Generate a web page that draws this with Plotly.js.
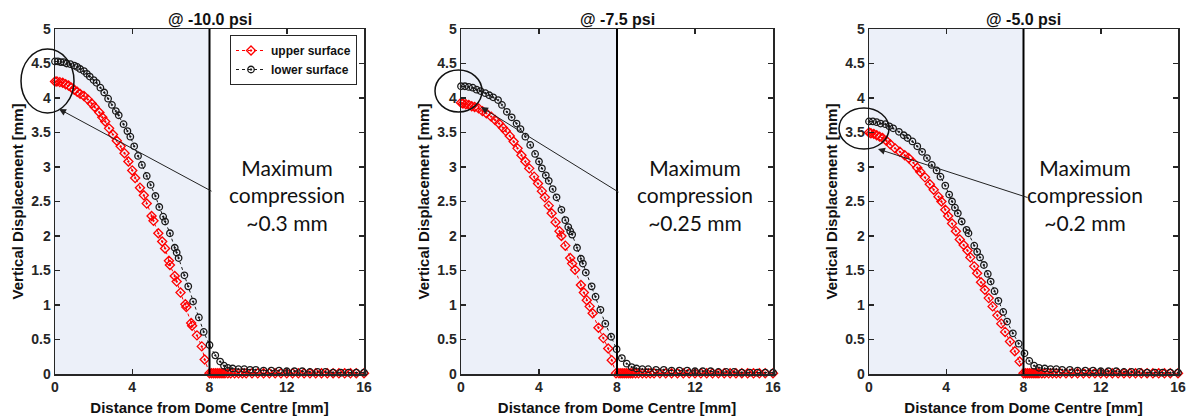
<!DOCTYPE html>
<html>
<head>
<meta charset="utf-8">
<script src="https://cdn.plot.ly/plotly-3.0.1.min.js"></script>
<style>html,body{margin:0;padding:0;background:#fff;}#chart{width:1194px;height:420px;}</style>
</head>
<body>
<div id="chart"></div>
<script>
// ---------- data ----------
const panelTitles = ['@ -10.0 psi', '@ -7.5 psi', '@ -5.0 psi'];
const noteTexts = ['Maximum<br>compression<br>~0.3 mm', 'Maximum<br>compression<br>~0.25 mm', 'Maximum<br>compression<br>~0.2 mm'];
const seriesNames = ['upper surface', 'lower surface'];
const xTicks = [0, 4, 8, 12, 16];
const yTicks = [0, 0.5, 1, 1.5, 2, 2.5, 3, 3.5, 4, 4.5, 5];
const domeEdge = 8;

// tails beyond the dome edge (x > 8)
const upperTailX = [8.1, 8.2, 8.3, 8.4, 8.5, 8.6, 8.7, 8.8, 8.95, 9.1, 9.3, 9.5, 9.7, 9.9, 10.2, 10.5, 10.8, 11.1, 11.4, 11.7, 12.0, 12.3, 12.6, 12.9, 13.2, 13.5, 13.8, 14.1, 14.4, 14.7, 15.0, 15.3, 15.6, 16.0];
const upperTailY = [0.01, 0.01, 0.01, 0.01, 0.01, 0.01, 0.01, 0.01, 0.01, 0.01, 0.01, 0.01, 0.01, 0.01, 0.01, 0.01, 0.01, 0.01, 0.01, 0.01, 0.01, 0.01, 0.01, 0.01, 0.01, 0.01, 0.01, 0.01, 0.01, 0.01, 0.01, 0.01, 0.01, 0.01];

// panel 1 (-10.0 psi)
const upper1X = [0, 0.1, 0.25, 0.4, 0.55, 0.7, 0.85, 1.0, 1.15, 1.3, 1.5, 1.7, 1.9, 2.05, 2.3, 2.45, 2.6, 2.8, 3.0, 3.2, 3.4, 3.6, 3.8, 4.0, 4.15, 4.4, 4.6, 4.75, 5.0, 5.1, 5.35, 5.55, 5.7, 5.9, 5.95, 6.2, 6.3, 6.5, 6.75, 6.8, 7.05, 7.1, 7.35, 7.6, 7.75, 8.0];
const upper1Y = [4.24, 4.24, 4.23, 4.22, 4.20, 4.18, 4.15, 4.12, 4.09, 4.06, 4.03, 3.98, 3.92, 3.87, 3.79, 3.72, 3.66, 3.56, 3.47, 3.38, 3.30, 3.20, 3.08, 2.95, 2.84, 2.70, 2.59, 2.47, 2.29, 2.22, 2.04, 1.92, 1.82, 1.64, 1.58, 1.42, 1.34, 1.18, 1.01, 0.97, 0.74, 0.70, 0.56, 0.40, 0.21, 0.01];
const lower1X = [0, 0.15, 0.3, 0.45, 0.6, 0.8, 1.0, 1.15, 1.3, 1.5, 1.65, 1.8, 2.0, 2.15, 2.35, 2.55, 2.75, 2.95, 3.15, 3.3, 3.55, 3.75, 3.9, 4.1, 4.3, 4.5, 4.75, 4.95, 5.2, 5.4, 5.6, 5.7, 5.95, 6.2, 6.3, 6.4, 6.7, 6.9, 7.15, 7.45, 7.7, 8.0, 8.3, 8.55, 8.75, 8.95, 9.2, 9.5, 9.8, 10.1, 10.4, 10.8, 11.2, 11.6, 12.0, 12.4, 12.8, 13.2, 13.6, 14.0, 14.4, 14.8, 15.2, 15.6, 16.0];
const lower1Y = [4.53, 4.53, 4.52, 4.52, 4.50, 4.49, 4.47, 4.45, 4.42, 4.39, 4.35, 4.31, 4.26, 4.22, 4.15, 4.08, 3.99, 3.90, 3.81, 3.75, 3.62, 3.52, 3.44, 3.30, 3.16, 3.03, 2.87, 2.74, 2.58, 2.42, 2.28, 2.21, 2.04, 1.83, 1.76, 1.68, 1.43, 1.27, 1.05, 0.82, 0.61, 0.42, 0.27, 0.18, 0.12, 0.09, 0.08, 0.07, 0.07, 0.06, 0.06, 0.05, 0.05, 0.05, 0.04, 0.04, 0.04, 0.03, 0.03, 0.03, 0.02, 0.02, 0.02, 0.02, 0.02];

// panel 2 (-7.5 psi)
const upper2X = [0, 0.1, 0.25, 0.4, 0.55, 0.7, 0.9, 1.1, 1.3, 1.55, 1.75, 1.95, 2.15, 2.3, 2.5, 2.7, 2.9, 3.1, 3.3, 3.5, 3.75, 3.95, 4.15, 4.3, 4.5, 4.65, 4.85, 5.05, 5.15, 5.35, 5.6, 5.7, 5.85, 6.15, 6.3, 6.45, 6.6, 6.75, 7.05, 7.3, 7.55, 7.73, 7.95];
const upper2Y = [3.93, 3.92, 3.91, 3.90, 3.88, 3.87, 3.85, 3.81, 3.78, 3.73, 3.68, 3.63, 3.57, 3.52, 3.45, 3.37, 3.27, 3.17, 3.08, 2.98, 2.86, 2.76, 2.65, 2.56, 2.44, 2.33, 2.20, 2.07, 2.00, 1.86, 1.68, 1.60, 1.51, 1.29, 1.18, 1.07, 0.98, 0.88, 0.67, 0.52, 0.37, 0.20, 0.01];
const lower2X = [0, 0.2, 0.4, 0.6, 0.8, 1.0, 1.25, 1.45, 1.65, 1.9, 2.1, 2.35, 2.6, 2.85, 3.05, 3.3, 3.55, 3.8, 4.0, 4.15, 4.35, 4.5, 4.7, 4.9, 5.15, 5.35, 5.5, 5.6, 5.7, 5.95, 6.15, 6.25, 6.4, 6.7, 6.9, 7.15, 7.4, 7.7, 7.98, 8.25, 8.5, 8.75, 9.0, 9.3, 9.6, 10.0, 10.4, 10.8, 11.2, 11.6, 12.0, 12.4, 12.8, 13.2, 13.6, 14.0, 14.4, 14.8, 15.2, 15.6, 16.0];
const lower2Y = [4.17, 4.17, 4.16, 4.15, 4.12, 4.10, 4.07, 4.04, 4.01, 3.97, 3.90, 3.80, 3.72, 3.63, 3.55, 3.44, 3.32, 3.19, 3.08, 2.98, 2.88, 2.80, 2.68, 2.56, 2.38, 2.23, 2.13, 2.07, 2.02, 1.83, 1.67, 1.60, 1.47, 1.27, 1.12, 0.93, 0.73, 0.54, 0.36, 0.23, 0.15, 0.10, 0.08, 0.07, 0.07, 0.06, 0.06, 0.05, 0.05, 0.05, 0.04, 0.04, 0.04, 0.03, 0.03, 0.03, 0.02, 0.02, 0.02, 0.02, 0.02];

// panel 3 (-5.0 psi)
const upper3X = [0, 0.1, 0.25, 0.4, 0.55, 0.7, 0.9, 1.1, 1.35, 1.6, 1.85, 2.05, 2.3, 2.5, 2.65, 2.9, 3.15, 3.35, 3.6, 3.75, 3.95, 4.1, 4.3, 4.5, 4.7, 4.9, 5.1, 5.25, 5.45, 5.6, 5.8, 6.0, 6.2, 6.4, 6.65, 6.85, 7.05, 7.3, 7.55, 7.8, 8.0];
const upper3Y = [3.50, 3.49, 3.48, 3.46, 3.44, 3.42, 3.38, 3.33, 3.27, 3.22, 3.17, 3.13, 3.06, 2.99, 2.93, 2.85, 2.75, 2.67, 2.57, 2.50, 2.38, 2.29, 2.18, 2.07, 1.95, 1.87, 1.79, 1.69, 1.56, 1.46, 1.33, 1.22, 1.10, 0.98, 0.85, 0.73, 0.61, 0.47, 0.33, 0.18, 0.01];
const lower3X = [0, 0.2, 0.4, 0.6, 0.85, 1.05, 1.25, 1.55, 1.8, 2.0, 2.25, 2.5, 2.75, 3.0, 3.25, 3.5, 3.7, 3.95, 4.15, 4.3, 4.45, 4.6, 4.8, 5.05, 5.15, 5.45, 5.6, 5.75, 5.95, 6.15, 6.3, 6.5, 6.7, 6.95, 7.15, 7.45, 7.75, 8.05, 8.3, 8.55, 8.8, 9.1, 9.4, 9.7, 10.0, 10.4, 10.8, 11.2, 11.6, 12.0, 12.4, 12.8, 13.2, 13.6, 14.0, 14.4, 14.8, 15.2, 15.6, 16.0];
const lower3Y = [3.66, 3.66, 3.65, 3.63, 3.62, 3.59, 3.56, 3.51, 3.46, 3.42, 3.37, 3.30, 3.22, 3.13, 3.03, 2.95, 2.86, 2.73, 2.60, 2.50, 2.41, 2.33, 2.21, 2.09, 2.04, 1.86, 1.77, 1.69, 1.58, 1.45, 1.34, 1.20, 1.06, 0.90, 0.76, 0.59, 0.44, 0.30, 0.19, 0.12, 0.09, 0.08, 0.07, 0.07, 0.06, 0.06, 0.05, 0.05, 0.05, 0.04, 0.04, 0.04, 0.03, 0.03, 0.03, 0.02, 0.02, 0.02, 0.02, 0.02];

const upperX = [upper1X, upper2X, upper3X];
const upperY = [upper1Y, upper2Y, upper3Y];
const lowerX = [lower1X, lower2X, lower3X];
const lowerY = [lower1Y, lower2Y, lower3Y];

// ---------- layout helpers ----------
const W = 1194, H = 420;
const M = {l: 55, r: 16, t: 29, b: 46};
const PW = W - M.l - M.r, PH = H - M.t - M.b;
const px2x = p => (p - M.l) / PW;
const px2y = p => (H - M.b - p) / PH;
const domains = [[px2x(55), px2x(364)], [px2x(461), px2x(773)], [px2x(869), px2x(1178)]];

const ellipses = [[21, 49, 74, 113], [435, 70, 482, 112], [839, 108, 889, 149]];
const arrows = [[59, 109, 213, 192], [481, 107, 620, 193], [878, 149, 1029, 198]];
const noteCenters = [[287, 195], [695, 195], [1085, 195]];

const baseFont = 'Liberation Sans, Arial, Helvetica, sans-serif';
const axisColor = '#262626';
const bold = s => '<b>' + s + '</b>';

const traces = [];
const layout = {
  width: W, height: H,
  margin: M,
  paper_bgcolor: '#fff', plot_bgcolor: '#fff',
  font: {family: baseFont, color: '#262626', size: 14},
  showlegend: true,
  legend: {
    x: px2x(357), xanchor: 'right', y: px2y(35), yanchor: 'top',
    bgcolor: '#fff', bordercolor: '#262626', borderwidth: 1,
    font: {family: baseFont, size: 12, color: '#111'},
    tracegroupgap: 0, itemwidth: 30
  },
  shapes: [], annotations: []
};

for (let i = 0; i < 3; i++) {
  const xa = i === 0 ? 'x' : 'x' + (i + 1);
  const ya = i === 0 ? 'y' : 'y' + (i + 1);
  traces.push({
    x: upperX[i].concat(upperTailX), y: upperY[i].concat(upperTailY),
    xaxis: xa, yaxis: ya, name: bold(seriesNames[0]), showlegend: i === 0,
    mode: 'lines+markers', cliponaxis: false,
    line: {color: '#ff0000', width: 1, dash: 'dot'},
    marker: {symbol: 'diamond-open-dot', size: 7, color: '#ff0000', line: {width: 1.3, color: '#ff0000'}}
  });
  traces.push({
    x: lowerX[i], y: lowerY[i],
    xaxis: xa, yaxis: ya, name: bold(seriesNames[1]), showlegend: i === 0,
    mode: 'lines+markers', cliponaxis: false,
    line: {color: '#1a1a1a', width: 1, dash: 'dot'},
    marker: {symbol: 'circle-open-dot', size: 6.5, color: '#1a1a1a', line: {width: 1.3, color: '#1a1a1a'}}
  });

  const axBase = {
    showline: true, mirror: 'ticks', linecolor: axisColor, linewidth: 1.5,
    ticks: 'inside', ticklen: 5, tickwidth: 1.5, tickcolor: axisColor,
    showgrid: false, zeroline: false,
    tickfont: {family: baseFont, size: 14, color: '#262626'}
  };
  layout['xaxis' + (i === 0 ? '' : i + 1)] = Object.assign({}, axBase, {
    domain: domains[i], anchor: ya, range: [0, 16], tickvals: xTicks, ticktext: xTicks.map(v => bold(String(v))),
    title: {text: bold('Distance from Dome Centre [mm]'), font: {family: baseFont, size: 15, color: '#111'}, standoff: 8}
  });
  layout['yaxis' + (i === 0 ? '' : i + 1)] = Object.assign({}, axBase, {
    domain: [0, 1], anchor: xa, range: [0, 5], tickvals: yTicks, ticktext: yTicks.map(v => bold(String(v))),
    title: {text: bold('Vertical Displacement [mm]'), font: {family: baseFont, size: 15, color: '#111'}, standoff: 4}
  });

  // shaded dome region and dome edge
  layout.shapes.push({type: 'rect', xref: xa, yref: ya, x0: 0, x1: domeEdge, y0: 0, y1: 5,
    fillcolor: '#ecf0f9', line: {width: 0}, layer: 'below'});
  layout.shapes.push({type: 'line', xref: xa, yref: ya, x0: domeEdge, x1: domeEdge, y0: 0, y1: 5,
    line: {color: '#000', width: 2}});
  // ellipse highlight
  const e = ellipses[i];
  layout.shapes.push({type: 'circle', xref: 'paper', yref: 'paper',
    x0: px2x(e[0]), x1: px2x(e[2]), y0: px2y(e[3]), y1: px2y(e[1]),
    line: {color: '#111', width: 1.5}, fillcolor: 'rgba(0,0,0,0)'});

  // panel title
  layout.annotations.push({xref: 'paper', yref: 'paper', x: (domains[i][0] + domains[i][1]) / 2, y: px2y(19),
    xanchor: 'center', yanchor: 'middle', showarrow: false, text: bold(panelTitles[i]),
    font: {family: baseFont, size: 16, color: '#111'}});
  // arrow
  const a = arrows[i];
  layout.annotations.push({xref: 'paper', yref: 'paper', x: px2x(a[0]), y: px2y(a[1]),
    ax: a[2] - a[0], ay: a[3] - a[1], text: '', showarrow: true,
    arrowhead: 2, arrowsize: 1.4, arrowwidth: 1, arrowcolor: '#222', standoff: 0});
  // note text
  const n = noteCenters[i];
  layout.annotations.push({xref: 'paper', yref: 'paper', x: px2x(n[0]), y: px2y(n[1]),
    xanchor: 'center', yanchor: 'middle', showarrow: false, text: noteTexts[i], align: 'center',
    font: {family: 'Lato, Open Sans, sans-serif', size: 21, color: '#111'}});
}

Plotly.newPlot('chart', traces, layout, {displayModeBar: false, staticPlot: true});
</script>
</body>
</html>
